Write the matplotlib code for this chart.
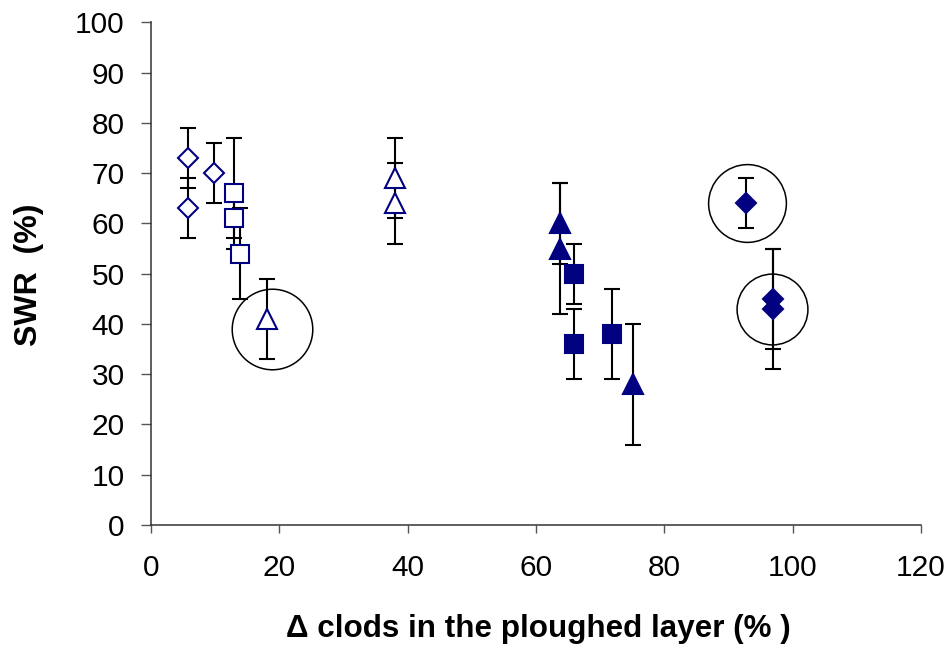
import matplotlib
matplotlib.use("Agg")
import matplotlib.pyplot as plt

# open symbols (left group)
open_diamond_x = [5.8, 5.8, 9.9]
open_diamond_y = [73, 63, 70]
open_diamond_err = [6, 6, 6]

open_square_x = [12.9, 12.9, 13.9]
open_square_y = [66, 61, 54]
open_square_err = [11, 4, 9]

open_triangle_x = [18.1, 38.0, 38.0]
open_triangle_y = [41, 69, 64]
open_triangle_err = [8, 8, 8]

# filled symbols (right group)
filled_triangle_x = [63.8, 63.8, 75.1]
filled_triangle_y = [60, 55, 28]
filled_triangle_err = [8, 13, 12]

filled_square_x = [65.9, 65.9, 71.8]
filled_square_y = [50, 36, 38]
filled_square_err = [6, 7, 9]

filled_diamond_x = [92.8, 96.9, 96.9]
filled_diamond_y = [64, 45, 43]
filled_diamond_err = [5, 10, 12]

# circled points
circle_x = [18.8, 92.9, 96.8]
circle_y = [39, 64, 43]

xticks = [0, 20, 40, 60, 80, 100, 120]
yticks = [0, 10, 20, 30, 40, 50, 60, 70, 80, 90, 100]

navy = "#000080"
font = "Liberation Sans"

fig = plt.figure(figsize=(9.53, 6.45), dpi=100)
ax = fig.add_axes([0.1584, 0.186, 0.808, 0.7794])

series = [
    (open_diamond_x, open_diamond_y, open_diamond_err, "D", 9.8, "white"),
    (open_square_x, open_square_y, open_square_err, "s", 12.3, "white"),
    (open_triangle_x, open_triangle_y, open_triangle_err, "^", 14, "white"),
    (filled_triangle_x, filled_triangle_y, filled_triangle_err, "^", 14.5, navy),
    (filled_square_x, filled_square_y, filled_square_err, "s", 13, navy),
    (filled_diamond_x, filled_diamond_y, filled_diamond_err, "D", 10, navy),
]

for x, y, e, m, ms, fc in series:
    ax.errorbar(x, y, yerr=e, fmt="none", ecolor="black", elinewidth=1.5,
                capsize=5.5, capthick=1.5, zorder=2)
    ax.plot(x, y, linestyle="none", marker=m, markersize=ms,
            markerfacecolor=fc, markeredgecolor=navy, markeredgewidth=1.5,
            zorder=3)

ax.plot(circle_x[0], circle_y[0], "o", ms=58, mfc="none", mec="black", mew=1.1, zorder=4)
ax.plot(circle_x[1], circle_y[1], "o", ms=56, mfc="none", mec="black", mew=1.1, zorder=4)
ax.plot(circle_x[2], circle_y[2], "o", ms=51, mfc="none", mec="black", mew=1.1, zorder=4)

ax.set_xlim(0, 120)
ax.set_ylim(0, 100)
ax.set_xticks(xticks)
ax.set_yticks(yticks)
ax.set_xticklabels([str(v) for v in xticks], fontsize=21.5, family=font)
ax.set_yticklabels([str(v) for v in yticks], fontsize=21.5, family=font)

for s in ["top", "right"]:
    ax.spines[s].set_visible(False)
for s in ["left", "bottom"]:
    ax.spines[s].set_color("#333333")
    ax.spines[s].set_linewidth(1.1)

ax.tick_params(axis="y", direction="out", length=7, width=1, color="#555555", pad=12)
ax.tick_params(axis="x", direction="out", length=6, width=1, color="#555555", pad=15)

fig.text(0.5646, 0.0129, "\u0394 clods in the ploughed layer (% )", ha="center",
         va="baseline", fontsize=22.6, fontweight="bold", family=font)
fig.text(0.0304, 0.5744, "SWR  (%)", ha="center", va="center", rotation=90,
         fontsize=23, fontweight="bold", family=font)

fig.savefig("out.png", dpi=100)
